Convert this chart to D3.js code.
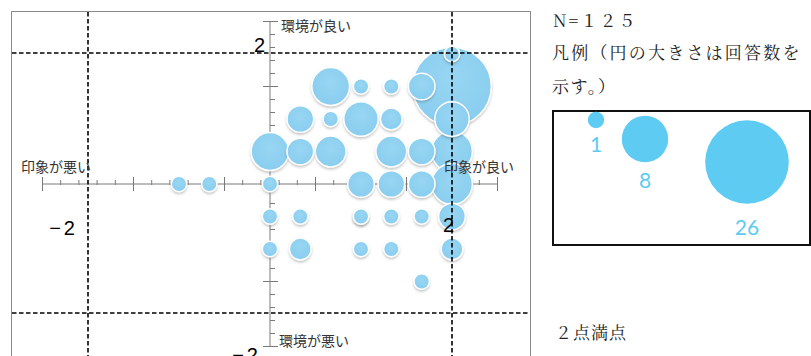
<!DOCTYPE html>
<html>
<head>
<meta charset="utf-8">
<script src="https://cdn.jsdelivr.net/npm/d3@7"></script>
<style>
  html, body { margin: 0; padding: 0; background: #fff; }
  svg { display: block; }
</style>
</head>
<body>
<svg id="chart" width="811" height="356"></svg>
<script>
// ---- data ----
const bubbleX = [2, 0.667, 2, 1, 2, 2, 0, 0.667, 1.333, 1.667, 0.333, 0.333, 1, 1.333, 1.667, 2, 1.667, 1.333, 0.333, 2, 2, 1, 1.333, 0.667, 1, -1, -0.667, 0, 0, 0.333, 1, 1.333, 1.667, 0, 1, 1.333, 1.667];
const bubbleY = [1.5, 1.5, 0.5, 1, 0, 1, 0.5, 0.5, 0.5, 1.5, 1, 0.5, 0, 0, 0, -0.5, 0.5, 1, -1, -1, 2, 1.5, 1.5, 1, -0.5, 0, 0, 0, -0.5, -0.5, -0.5, -0.5, -0.5, -1, -1, -1, -1.5];
const bubbleCount = [26, 6, 7, 5, 7, 5, 6, 4, 4, 3, 3, 3, 3, 3, 3, 3, 3, 2, 2, 2, 1, 1, 1, 1, 1, 1, 1, 1, 1, 1, 1, 1, 1, 1, 1, 1, 1];
const legendCounts = [1, 8, 26];
const legendLabels = ["1", "8", "26"];
const axisLabels = { top: "環境が良い", bottom: "環境が悪い", left: "印象が悪い", right: "印象が良い" };
const quadrantValues = [-2, 2];
const sampleText = "N=１２５";
const legendTitle1 = "凡例（円の大きさは回答数を";
const legendTitle2 = "示す。）";
const fullScoreText = "２点満点";

// ---- scales ----
const x = d3.scaleLinear().domain([-2.5, 2.5]).range([42.5, 497.5]);
const y = d3.scaleLinear().domain([-2.5, 2.5]).range([346.5, 21.5]);
const r = d3.scaleSqrt().domain([0, 26]).range([0, 39.3]);
const rLegend = d3.scaleSqrt().domain([0, 26]).range([0, 41.8]);

const svg = d3.select("#chart");
const defs = svg.append("defs");
const f = defs.append("filter").attr("id", "shadow").attr("x", "-30%").attr("y", "-30%").attr("width", "160%").attr("height", "170%");
f.append("feDropShadow").attr("dx", 0).attr("dy", 1.8).attr("stdDeviation", 1.3).attr("flood-color", "#555").attr("flood-opacity", 0.32);
const grad = defs.append("radialGradient").attr("id", "bub").attr("cx", "50%").attr("cy", "40%").attr("r", "60%");
grad.append("stop").attr("offset", "0%").attr("stop-color", "#98d6f3");
grad.append("stop").attr("offset", "100%").attr("stop-color", "#89cdef");

// frame
svg.append("rect").attr("x", 11.5).attr("y", 11.5).attr("width", 519).attr("height", 360)
  .attr("fill", "#fff").attr("stroke", "#8a8a8a").attr("stroke-width", 1);

// axes
const axisColor = "#7a7a7a";
const ticks = d3.range(0, 26).map(i => -2.5 + i * 0.2);
const g = svg.append("g");
g.append("line").attr("x1", x(-2.5)).attr("x2", x(2.5)).attr("y1", y(0)).attr("y2", y(0))
  .attr("stroke", axisColor).attr("stroke-width", 1);
g.append("line").attr("x1", x(0)).attr("x2", x(0)).attr("y1", y(2.5)).attr("y2", y(-2.5))
  .attr("stroke", axisColor).attr("stroke-width", 1);
ticks.forEach((t, i) => {
  const major = i % 5 === 0;
  g.append("line").attr("x1", x(t)).attr("x2", x(t))
    .attr("y1", y(0) - (major ? 7 : 4)).attr("y2", y(0) + (major ? 7 : 1))
    .attr("stroke", axisColor).attr("stroke-width", 1);
  g.append("line").attr("y1", y(t)).attr("y2", y(t))
    .attr("x1", x(0) - (major ? 7 : 0)).attr("x2", x(0) + (major ? 8 : 5))
    .attr("stroke", axisColor).attr("stroke-width", 1);
});

// bubbles (largest first)
const bubbles = bubbleCount.map((c, i) => ({ x: bubbleX[i], y: bubbleY[i], c }))
  .sort((a, b) => b.c - a.c);
svg.append("g").selectAll("circle").data(bubbles).join("circle")
  .attr("cx", d => x(d.x)).attr("cy", d => y(d.y)).attr("r", d => r(d.c))
  .attr("fill", "url(#bub)").attr("stroke", "#fff").attr("stroke-width", 1.5)
  .attr("filter", "url(#shadow)");

// dashed quadrant lines
const dash = svg.append("g").attr("stroke", "#000").attr("stroke-width", 1.6).attr("stroke-dasharray", "4.5,2.5");
quadrantValues.forEach(v => {
  dash.append("line").attr("x1", x(v)).attr("x2", x(v)).attr("y1", 12).attr("y2", 356);
  dash.append("line").attr("y1", y(v) - 1).attr("y2", y(v) - 1).attr("x1", 12).attr("x2", 530);
});

// axis texts
const jp = "'Noto Sans CJK JP', sans-serif";
const tg = svg.append("g").attr("font-family", jp).attr("font-size", 14).attr("fill", "#333");
tg.append("text").attr("x", 281).attr("y", 31).text(axisLabels.top);
tg.append("text").attr("x", 279).attr("y", 346).text(axisLabels.bottom);
tg.append("text").attr("x", 21).attr("y", 172).text(axisLabels.left);
tg.append("text").attr("x", 444).attr("y", 172).text(axisLabels.right);

const ng = svg.append("g").attr("font-family", "'Liberation Sans', Arial, sans-serif").attr("font-size", 20).attr("fill", "#000");
ng.append("text").attr("x", 265).attr("y", 52).attr("text-anchor", "end").text(String(quadrantValues[1]));
ng.append("text").attr("x", 78).attr("y", 235).attr("text-anchor", "end").attr("letter-spacing", 3).text("−" + Math.abs(quadrantValues[0]));
ng.append("text").attr("x", 454).attr("y", 232).attr("text-anchor", "end").text(String(quadrantValues[1]));
ng.append("text").attr("x", 261).attr("y", 362).attr("text-anchor", "end").attr("letter-spacing", 3).text("−" + Math.abs(quadrantValues[0]));

// right side text
const serif = "'Noto Serif CJK JP', 'Noto Sans CJK JP', serif";
const rt = svg.append("g").attr("font-family", serif).attr("font-size", 17).attr("fill", "#222");
rt.append("text").attr("x", 553).attr("y", 27).attr("letter-spacing", 2).text(sampleText);
rt.append("text").attr("x", 552).attr("y", 59).attr("letter-spacing", 2.2).text(legendTitle1);
rt.append("text").attr("x", 552).attr("y", 93).attr("letter-spacing", 1.6).text(legendTitle2);
rt.append("text").attr("x", 555).attr("y", 339).attr("letter-spacing", 1).text(fullScoreText);

// legend box
svg.append("rect").attr("x", 553).attr("y", 111).attr("width", 257).attr("height", 134)
  .attr("fill", "#fff").attr("stroke", "#111").attr("stroke-width", 2);
const legendCx = [596, 645, 747];
const legendCy = [120, 139, 162];
const legendLy = [152, 188, 235];
const lg = svg.append("g");
legendCounts.forEach((c, i) => {
  lg.append("circle").attr("cx", legendCx[i]).attr("cy", legendCy[i]).attr("r", rLegend(c)).attr("fill", "#5ecbf2");
  lg.append("text").attr("x", legendCx[i]).attr("y", legendLy[i]).attr("text-anchor", "middle")
    .attr("font-family", "Lato, 'Open Sans', sans-serif").attr("font-size", 21).attr("fill", "#5ecbf2").text(legendLabels[i]);
});
</script>
</body>
</html>
